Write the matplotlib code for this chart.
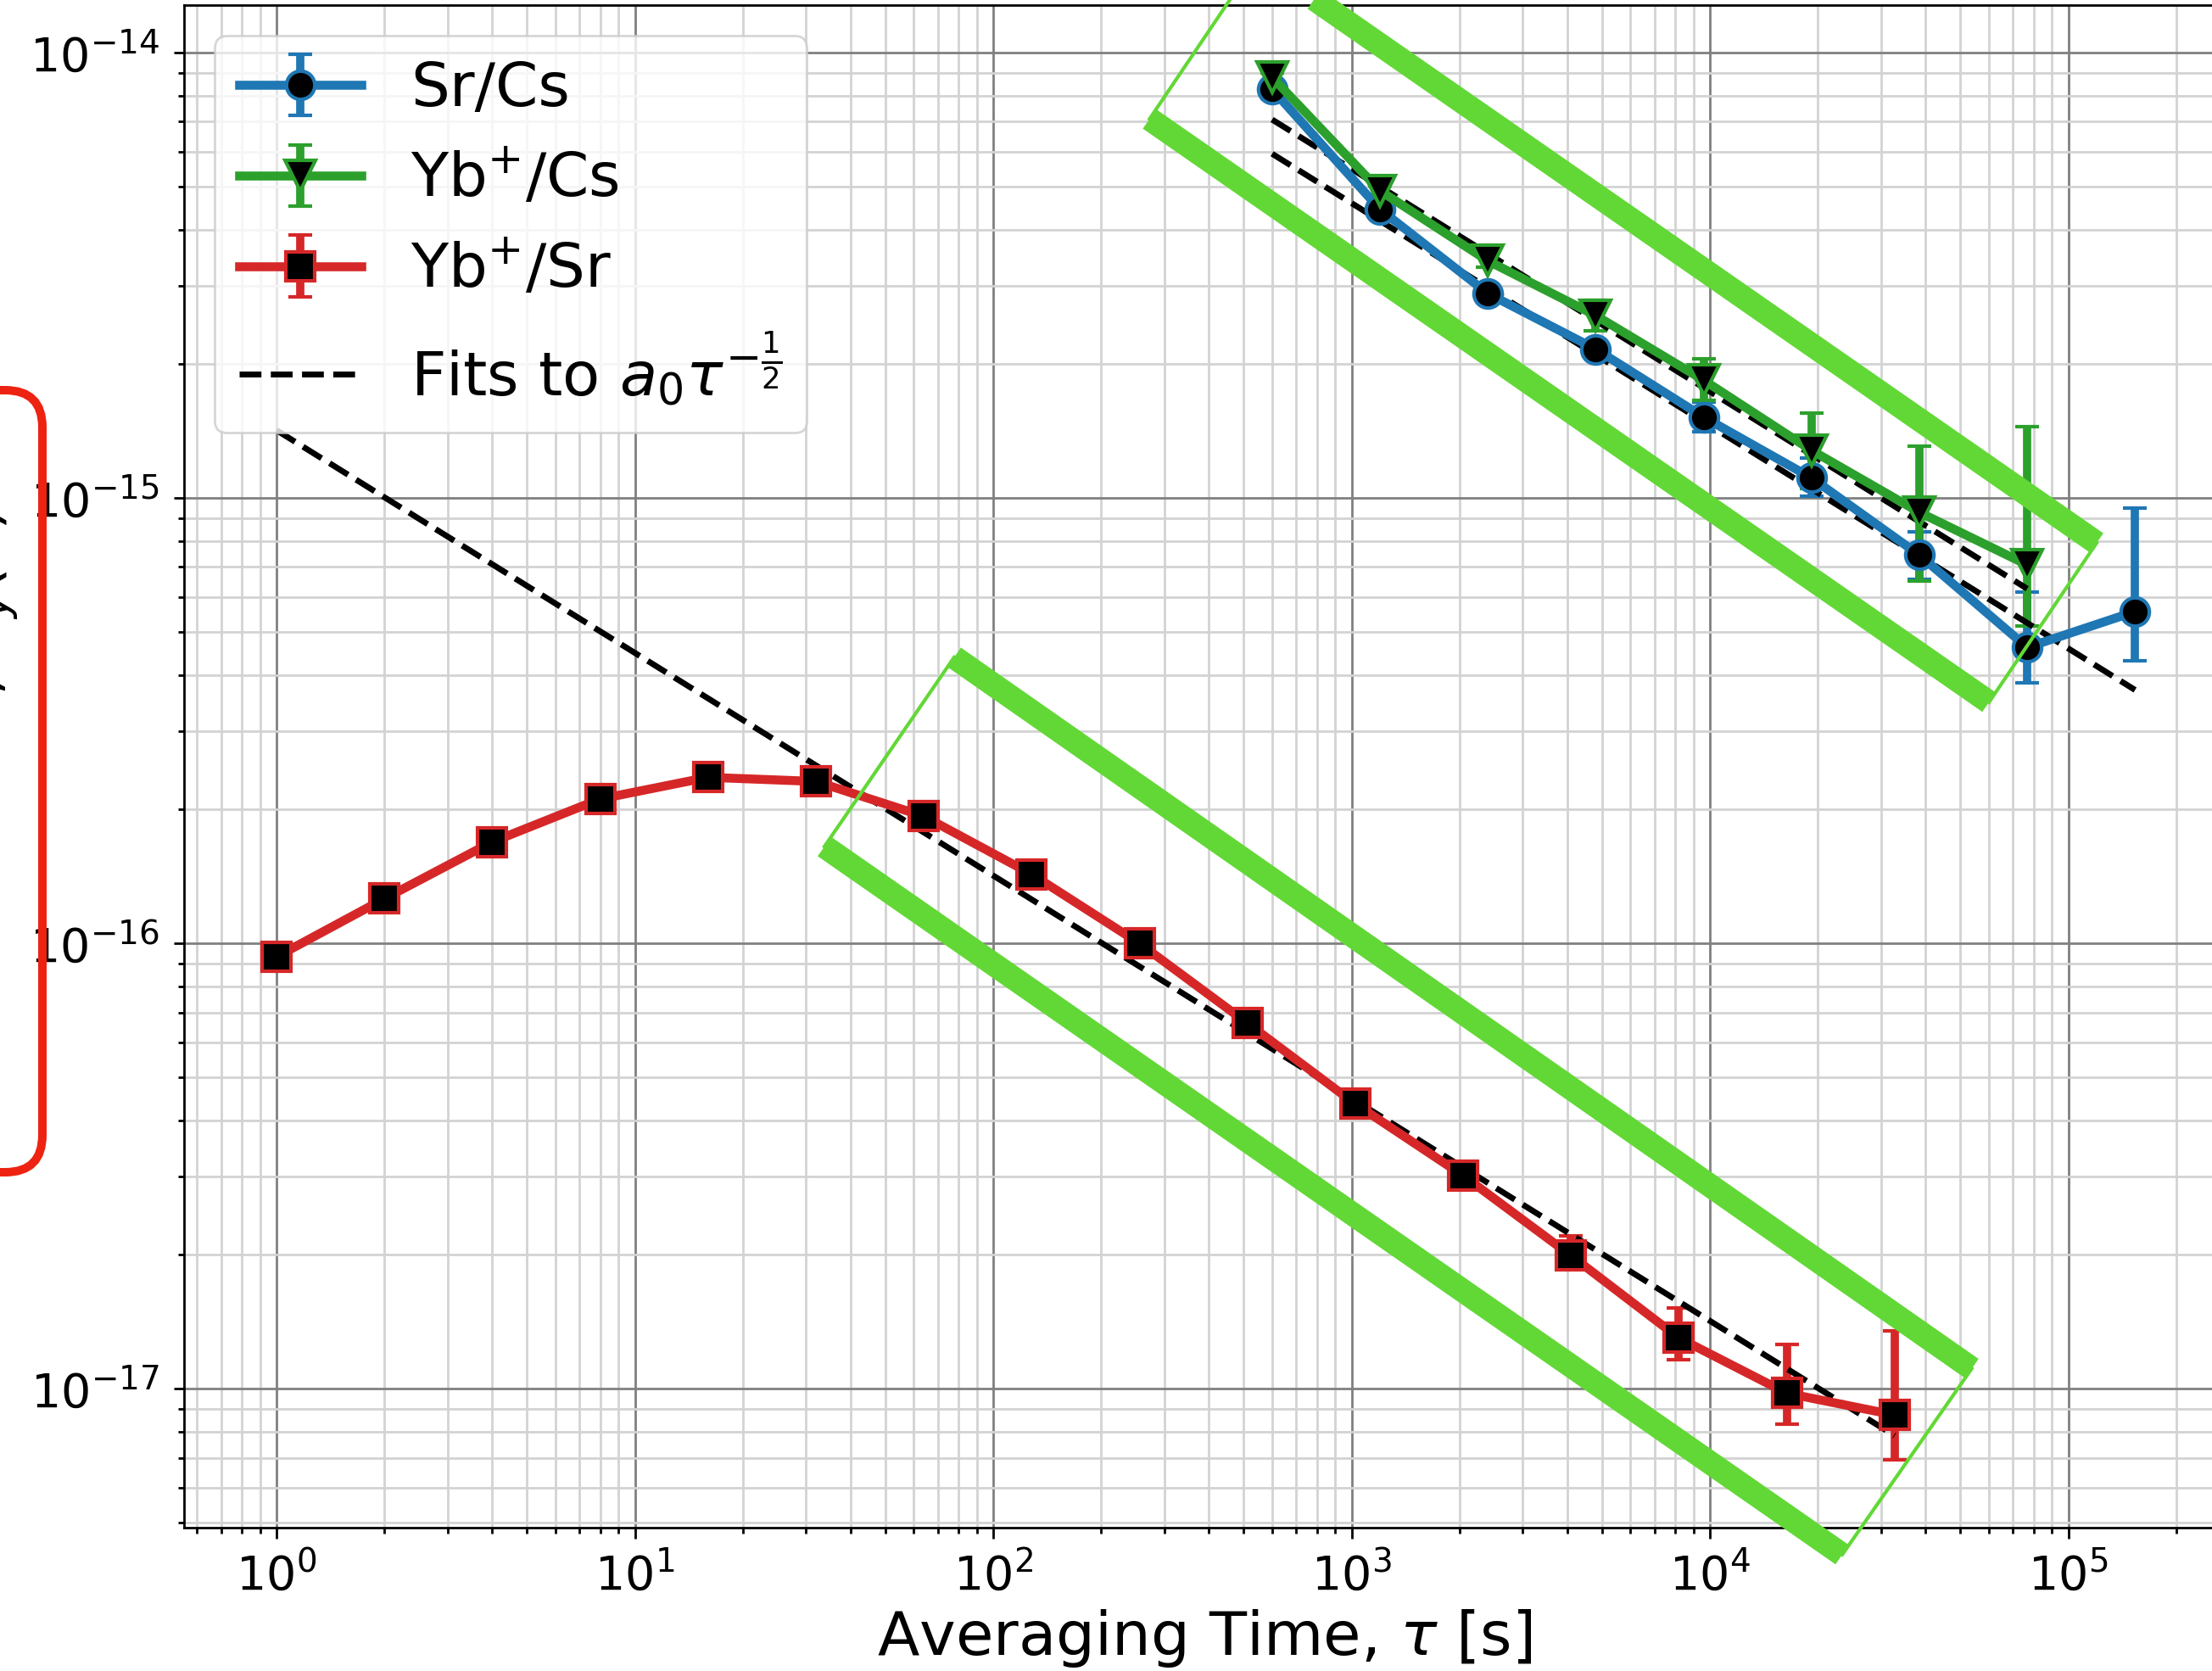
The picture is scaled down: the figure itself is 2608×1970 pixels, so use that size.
import numpy as np
import matplotlib.pyplot as plt
from matplotlib.patches import FancyBboxPatch

# Sr/Cs
tau_srcs = [600, 1200, 2400, 4800, 9600, 19200, 38400, 76800, 153600]
adev_srcs = [8.28e-15, 4.45e-15, 2.88e-15, 2.16e-15, 1.52e-15, 1.11e-15, 7.45e-16, 4.62e-16, 5.56e-16]
lo_srcs = [8.10e-15, 4.35e-15, 2.80e-15, 2.08e-15, 1.41e-15, 1.01e-15, 6.56e-16, 3.85e-16, 4.31e-16]
hi_srcs = [8.46e-15, 4.55e-15, 2.96e-15, 2.24e-15, 1.64e-15, 1.23e-15, 8.40e-16, 6.15e-16, 9.49e-16]

# Yb+/Cs
tau_ybcs = [600, 1200, 2400, 4800, 9600, 19200, 38400, 76800]
adev_ybcs = [8.81e-15, 4.90e-15, 3.41e-15, 2.57e-15, 1.84e-15, 1.28e-15, 9.29e-16, 7.08e-16]
lo_ybcs = [8.60e-15, 4.78e-15, 3.30e-15, 2.37e-15, 1.66e-15, 1.05e-15, 6.50e-16, 5.15e-16]
hi_ybcs = [9.02e-15, 5.02e-15, 3.52e-15, 2.78e-15, 2.05e-15, 1.55e-15, 1.31e-15, 1.445e-15]

# Yb+/Sr
tau_ybsr = [1, 2, 4, 8, 16, 32, 64, 128, 256, 512, 1024, 2048, 4096, 8192, 16384, 32768]
adev_ybsr = [9.33e-17, 1.26e-16, 1.69e-16, 2.11e-16, 2.36e-16, 2.31e-16, 1.93e-16, 1.43e-16,
             1.00e-16, 6.62e-17, 4.36e-17, 3.01e-17, 1.99e-17, 1.30e-17, 9.77e-18, 8.73e-18]
lo_ybsr = [9.25e-17, 1.25e-16, 1.67e-16, 2.08e-16, 2.32e-16, 2.26e-16, 1.88e-16, 1.38e-16,
           9.60e-17, 6.30e-17, 4.10e-17, 2.82e-17, 1.86e-17, 1.16e-17, 8.32e-18, 6.92e-18]
hi_ybsr = [9.41e-17, 1.27e-16, 1.71e-16, 2.14e-16, 2.40e-16, 2.36e-16, 1.98e-16, 1.48e-16,
           1.04e-16, 6.94e-17, 4.62e-17, 3.20e-17, 2.20e-17, 1.52e-17, 1.256e-17, 1.35e-17]

# fitted a0 for a0 * tau^-1/2
a0_srcs = 1.453e-13
a0_ybcs = 1.734e-13
a0_ybsr = 1.42e-15

# hand drawn green boxes (corners in data units)
box1_tau = [545, 1.20e5, 6.01e4, 273]
box1_val = [1.62e-14, 7.93e-16, 3.48e-16, 7.10e-15]
box2_tau = [77.8, 5.38e4, 2.34e4, 33.8]
box2_val = [4.39e-16, 1.11e-17, 4.24e-18, 1.65e-16]

fig = plt.figure(figsize=(13.04, 9.85), dpi=200)
ax = fig.add_axes([0.08321, 0.08579, 0.93282, 0.91117])
ax.set_xscale('log')
ax.set_yscale('log')

def yerr(v, lo, hi):
    v = np.array(v); return [v - np.array(lo), np.array(hi) - v]

kw = dict(lw=3.8, elinewidth=3.5, capsize=5, capthick=1.5, mfc='k', mew=1.5)
h1 = ax.errorbar(tau_srcs, adev_srcs, yerr=yerr(adev_srcs, lo_srcs, hi_srcs), color='tab:blue',
                 marker='o', ms=12, mec='tab:blue', label='Sr/Cs', **kw)
h2 = ax.errorbar(tau_ybcs, adev_ybcs, yerr=yerr(adev_ybcs, lo_ybcs, hi_ybcs), color='tab:green',
                 marker='v', ms=13, mec='tab:green', label='Yb$^{+}$/Cs', **kw)
h3 = ax.errorbar(tau_ybsr, adev_ybsr, yerr=yerr(adev_ybsr, lo_ybsr, hi_ybsr), color='tab:red',
                 marker='s', ms=12, mec='tab:red', label='Yb$^{+}$/Sr', **kw)

t = np.array(tau_srcs)
h4, = ax.plot(t, a0_srcs / np.sqrt(t), 'k--', lw=2.5, label=r'Fits to $a_0\tau^{-\frac{1}{2}}$')
t = np.array(tau_ybcs)
ax.plot(t, a0_ybcs / np.sqrt(t), 'k--', lw=2.5)
t = np.array(tau_ybsr)
ax.plot(t, a0_ybsr / np.sqrt(t), 'k--', lw=2.5)

ax.set_xlim(10**-0.258, 10**5.5)
ax.set_ylim(10**-17.312, 10**-13.893)
ax.grid(True, which='major', color='gray', lw=1.0)
ax.grid(True, which='minor', color='lightgray', lw=1.0)
ax.set_axisbelow(True)
ax.tick_params(which='major', labelsize=20, length=4.5, width=1.0, pad=6)
ax.tick_params(which='minor', length=2.5, width=1.0)
for s in ax.spines.values():
    s.set_linewidth(1.0)

ax.set_xlabel(r'Averaging Time, $\tau$ [s]', fontsize=26)
ax.xaxis.set_label_coords(0.4945, -0.0525)
ax.set_ylabel(r'Allan Deviation, $\sigma_y(\tau)$', fontsize=26)
ax.yaxis.set_label_coords(-0.079, 0.455)

ax.legend(handles=[h1, h2, h3, h4], loc='upper left', fontsize=26, handlelength=2.0)

# green annotation boxes: thick long sides, thin short sides
green = '#62d836'
for bt, bv in [(box1_tau, box1_val), (box2_tau, box2_val)]:
    ax.plot([bt[0], bt[1]], [bv[0], bv[1]], color=green, lw=10, solid_capstyle='butt', clip_on=False, zorder=10)
    ax.plot([bt[3], bt[2]], [bv[3], bv[2]], color=green, lw=10, solid_capstyle='butt', clip_on=False, zorder=10)
    ax.plot([bt[0], bt[3]], [bv[0], bv[3]], color=green, lw=1.5, clip_on=False, zorder=10)
    ax.plot([bt[1], bt[2]], [bv[1], bv[2]], color=green, lw=1.5, clip_on=False, zorder=10)

# red rounded box on the left
fig.add_artist(FancyBboxPatch((-0.5, 2.94), 0.75, 4.61, boxstyle='round,pad=0,rounding_size=0.22',
                              transform=fig.dpi_scale_trans, fill=False, ec='#ee2211', lw=3.6))

fig.savefig('out.png', dpi=200)
